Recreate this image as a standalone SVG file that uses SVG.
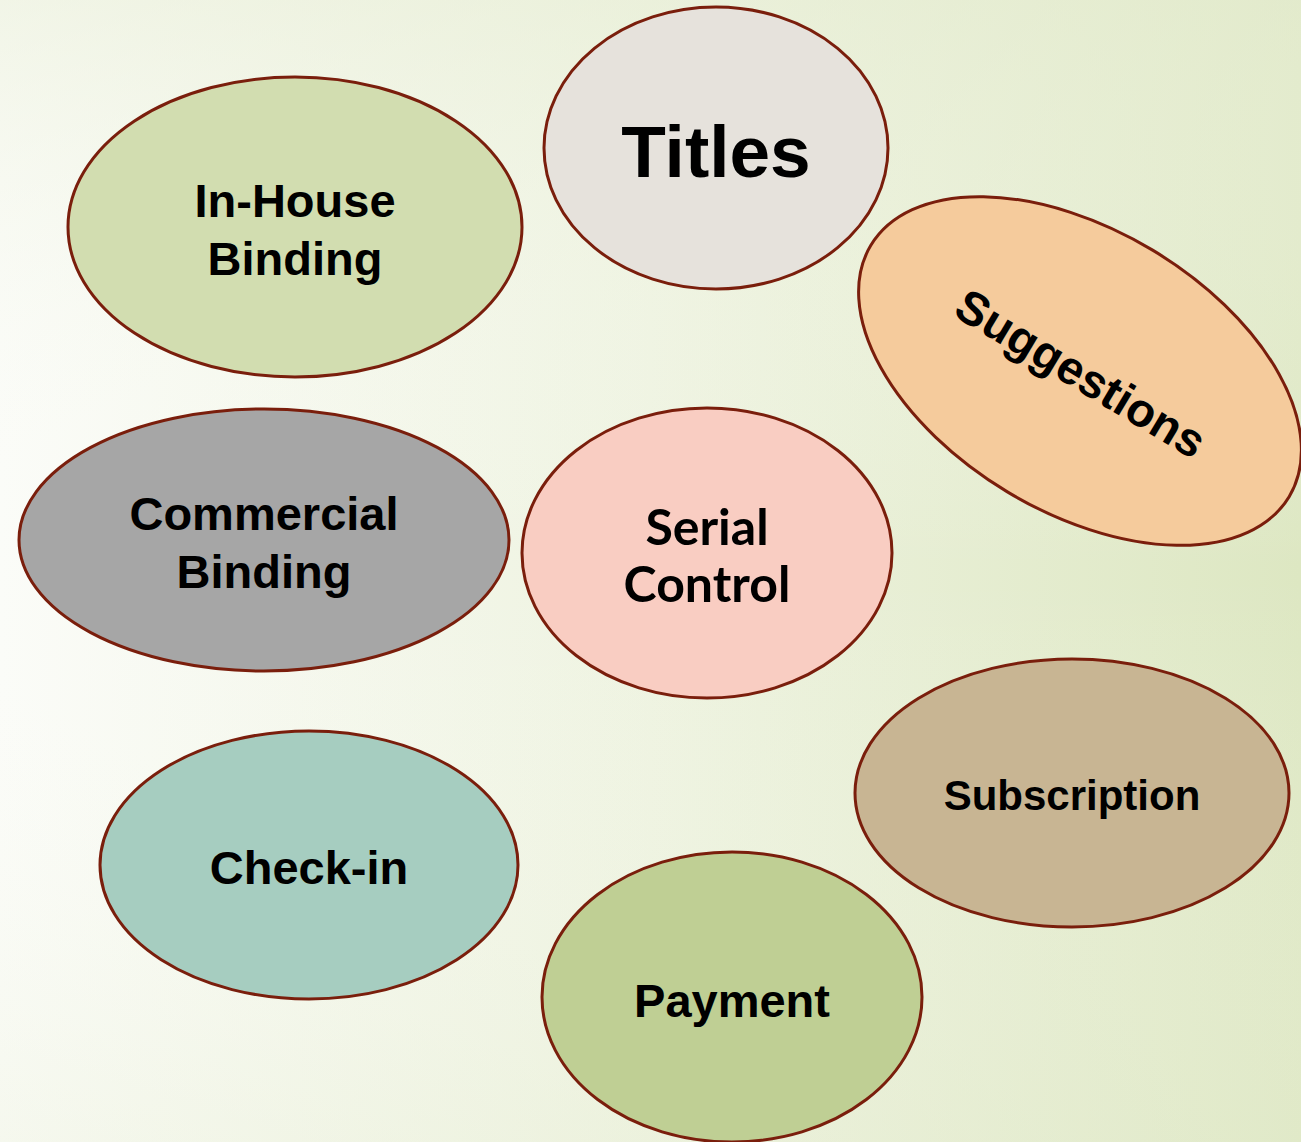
<svg xmlns="http://www.w3.org/2000/svg" width="1301" height="1142" viewBox="0 0 1301 1142">
<defs>
<linearGradient id="bg" x1="0" y1="0" x2="1" y2="0">
<stop offset="0" stop-color="#fbfcf8"/>
<stop offset="0.5" stop-color="#eef3e0"/>
<stop offset="1" stop-color="#dde7c2"/>
</linearGradient>
<linearGradient id="bgv" x1="0" y1="0" x2="0" y2="1">
<stop offset="0" stop-color="#e8eed6" stop-opacity="0.5"/>
<stop offset="0.5" stop-color="#ffffff" stop-opacity="0"/>
<stop offset="1" stop-color="#e8eed6" stop-opacity="0.3"/>
</linearGradient>
<style>
.n{stroke:#7a1e0c;stroke-width:3}
.t{font-family:"Liberation Sans",Arial,sans-serif;font-weight:bold;fill:#000;text-anchor:middle}
.g{font-family:Lato,"Liberation Sans",sans-serif;font-weight:bold;fill:#000;text-anchor:middle}
</style>
</defs>
<rect width="1301" height="1142" fill="url(#bg)"/>
<rect width="1301" height="1142" fill="url(#bgv)"/>
<g id="connectors"></g>
<g id="titles">
<ellipse class="n" cx="716" cy="148" rx="172" ry="141" fill="#e6e2dc"/>
<text class="t" x="716" y="177" font-size="73">Titles</text>
</g>
<g id="inhouse">
<ellipse class="n" cx="295" cy="227" rx="227" ry="150" fill="#d2ddb0"/>
<text class="t" x="295" y="217" font-size="47">In-House</text>
<text class="t" x="295" y="275" font-size="47">Binding</text>
</g>
<g id="suggestions">
<ellipse class="n" cx="1080" cy="371" rx="244" ry="141" fill="#f5cb9c" transform="rotate(31 1080 371)"/>
<text class="t" x="1082" y="389" font-size="47" transform="rotate(31 1080 371)">Suggestions</text>
</g>
<g id="commercial">
<ellipse class="n" cx="264" cy="540" rx="245" ry="131" fill="#a6a6a6"/>
<text class="t" x="264" y="530" font-size="47">Commercial</text>
<text class="t" x="264" y="588" font-size="47">Binding</text>
</g>
<g id="serial">
<ellipse class="n" cx="707" cy="553" rx="185" ry="145" fill="#f9cdc2"/>
<text class="g" x="707" y="545" font-size="50">Serial</text>
<text class="g" x="707" y="602" font-size="50">Control</text>
</g>
<g id="subscription">
<ellipse class="n" cx="1072" cy="793" rx="217" ry="134" fill="#c8b593"/>
<text class="t" x="1072" y="810" font-size="42">Subscription</text>
</g>
<g id="checkin">
<ellipse class="n" cx="309" cy="865" rx="209" ry="134" fill="#a6cdc0"/>
<text class="t" x="309" y="884" font-size="47">Check-in</text>
</g>
<g id="payment">
<ellipse class="n" cx="732" cy="997" rx="190" ry="145" fill="#bfcf94"/>
<text class="t" x="732" y="1017" font-size="47">Payment</text>
</g>
</svg>
